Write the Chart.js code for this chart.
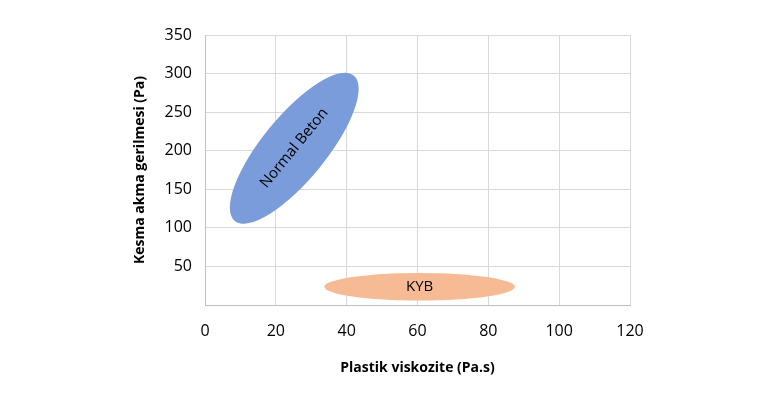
<!DOCTYPE html>
<html lang="tr">
  <head>
    <meta charset="UTF-8" />
    <title>Plastik viskozite - Kesma akma gerilmesi</title>
    <script src="https://cdn.jsdelivr.net/npm/chart.js"></script>
    <style>
      body {
        margin: 0;
        background: #fff;
      }
      #chart {
        display: block;
      }
    </style>
  </head>
  <body>
    <canvas id="chart" width="762" height="399"></canvas>

    <script>
      // each region is an ellipse: major axis from start to end point, minor axis as ratio of the major one
      const groups = ["Normal Beton", "KYB"];
      const axisStartX = [8.4, 33.7];
      const axisStartY = [109.0, 23.6];
      const axisEndX = [42.0, 87.5];
      const axisEndY = [297.5, 23.6];
      const minorRatio = [0.34, 0.144];

      const xTicks = [0, 20, 40, 60, 80, 100, 120];
      const yTicks = [0, 50, 100, 150, 200, 250, 300, 350];

      const fillColors = ["#7B9CDA", "#F6BB94"];
      const font = "'Open Sans', 'DejaVu Sans', sans-serif";

      const ellipsePlugin = {
        id: "ellipses",
        beforeDatasetsDraw(chart) {
          const ctx = chart.ctx;
          const xs = chart.scales.x;
          const ys = chart.scales.y;
          groups.forEach((name, i) => {
            const x1 = xs.getPixelForValue(axisStartX[i]);
            const y1 = ys.getPixelForValue(axisStartY[i]);
            const x2 = xs.getPixelForValue(axisEndX[i]);
            const y2 = ys.getPixelForValue(axisEndY[i]);
            const cx = (x1 + x2) / 2;
            const cy = (y1 + y2) / 2;
            const a = Math.hypot(x2 - x1, y2 - y1) / 2;
            const b = a * minorRatio[i];
            const angle = Math.atan2(y2 - y1, x2 - x1);

            ctx.save();
            ctx.beginPath();
            ctx.ellipse(cx, cy, a, b, angle, 0, Math.PI * 2);
            ctx.fillStyle = fillColors[i];
            ctx.fill();

            ctx.translate(cx, cy);
            ctx.rotate(angle);
            ctx.fillStyle = "#000";
            ctx.font = "15px " + font;
            ctx.textAlign = "center";
            ctx.textBaseline = "middle";
            ctx.fillText(name, 0, 0);
            ctx.restore();
          });
        },
      };

      new Chart(document.getElementById("chart"), {
        type: "scatter",
        data: {
          datasets: [
            {
              label: "merkez",
              data: groups.map((g, i) => ({
                x: (axisStartX[i] + axisEndX[i]) / 2,
                y: (axisStartY[i] + axisEndY[i]) / 2,
              })),
              pointRadius: 0,
              pointHoverRadius: 0,
            },
          ],
        },
        options: {
          responsive: false,
          animation: false,
          layout: { padding: { left: 128, right: 132, top: 35, bottom: 19 } },
          plugins: {
            legend: { display: false },
            tooltip: { enabled: false },
          },
          scales: {
            x: {
              type: "linear",
              min: xTicks[0],
              max: xTicks[xTicks.length - 1],
              afterBuildTicks: (scale) => {
                scale.ticks = xTicks.map((v) => ({ value: v }));
              },
              afterFit: (scale) => {
                scale.height = 75;
              },
              grid: { color: "#D9D9D9", drawTicks: false },
              border: { color: "#BFBFBF" },
              ticks: {
                padding: 17,
                color: "#000",
                font: { family: font, size: 16 },
              },
              title: {
                display: true,
                text: "Plastik viskozite (Pa.s)",
                color: "#000",
                font: { family: font, size: 14, weight: "bold" },
              },
            },
            y: {
              type: "linear",
              min: yTicks[0],
              max: yTicks[yTicks.length - 1],
              afterBuildTicks: (scale) => {
                scale.ticks = yTicks.map((v) => ({ value: v }));
              },
              afterFit: (scale) => {
                scale.width = 77;
              },
              grid: { color: "#D9D9D9", drawTicks: false },
              border: { color: "#BFBFBF" },
              ticks: {
                padding: 13,
                color: "#000",
                font: { family: font, size: 16 },
                callback: (v) => (v === 0 ? "" : v),
              },
              title: {
                display: true,
                text: "Kesma akma gerilmesi (Pa)",
                color: "#000",
                font: { family: font, size: 14, weight: "bold" },
              },
            },
          },
        },
        plugins: [ellipsePlugin],
      });
    </script>
  </body>
</html>
